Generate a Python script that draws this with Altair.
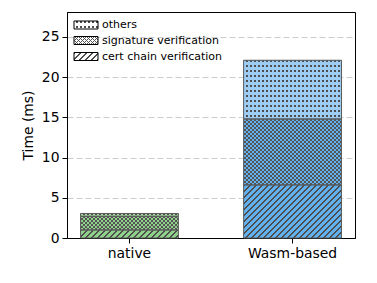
import math
import altair as alt
import pandas as pd

# ---------------- data ----------------
categories = ["native", "Wasm-based"]
segments = ["cert chain verification", "signature verification", "others"]
native_ms = [1.0, 1.7, 0.35]
wasm_ms = [6.6, 8.2, 7.3]
y_ticks = [0, 5, 10, 15, 20, 25]
y_title = "Time (ms)"
legend_order = ["others", "signature verification", "cert chain verification"]

# ---------------- styles ----------------
PLOT_W, PLOT_H = 288, 226
Y_MAX = 28.1
PAD_IN, PAD_OUT = 0.4, 0.083
FONT = "DejaVu Sans"
INK = "#4d4d4d"
EDGE = "#5a5a5a"
CLEAR = "rgba(255,255,255,0)"
fills = {
    "native": {"cert chain verification": "#8fd08a",
               "signature verification": "#8fd08a",
               "others": "#a9dba4"},
    "Wasm-based": {"cert chain verification": "#62b1ef",
                   "signature verification": "#62b1ef",
                   "others": "#9dcdf4"},
}
hatch_kind = {"cert chain verification": "diag",
              "signature verification": "cross",
              "others": "dots"}

rows = []
for cat, vals in zip(categories, [native_ms, wasm_ms]):
    acc = 0.0
    for seg, v in zip(segments, vals):
        rows.append({"category": cat, "segment": seg, "start": acc,
                     "end": acc + v, "fillc": fills[cat][seg]})
        acc += v
df = pd.DataFrame(rows)

step = PLOT_W / (len(categories) - PAD_IN + 2 * PAD_OUT)
BAND = step * (1 - PAD_IN)
PPU = PLOT_H / Y_MAX


# ---------------- hatch gradients ----------------
def stops(n, frac, on, off=CLEAR):
    out = []
    p = 1.0 / max(n, 1e-6)
    i = 0
    while i * p < 1 - 1e-9:
        a = i * p
        b = min(1.0, a + frac * p)
        c = min(1.0, (i + 1) * p)
        out += [{"offset": round(a, 5), "color": on},
                {"offset": round(b, 5), "color": on},
                {"offset": round(b, 5), "color": off},
                {"offset": round(c, 5), "color": off}]
        i += 1
    return out


def diag(w, h, xperiod, frac, on, slash=True):
    # stripes at 45 degrees; xperiod = horizontal repeat in pixels
    L = w + h
    k = L / (w * w + h * h)
    gx, gy = k * w, k * h
    n = L / xperiod
    if slash:
        return {"gradient": "linear", "x1": 0, "y1": 0, "x2": gx, "y2": gy,
                "stops": stops(n, frac, on)}
    return {"gradient": "linear", "x1": 0, "y1": 1, "x2": gx, "y2": 1 - gy,
            "stops": stops(n, frac, on)}


def horiz(h, period, frac, on):
    return {"gradient": "linear", "x1": 0, "y1": 0, "x2": 0, "y2": 1,
            "stops": stops(h / period, frac, on)}


def vert(w, period, frac, on):
    return {"gradient": "linear", "x1": 0, "y1": 0, "x2": 1, "y2": 0,
            "stops": stops(w / period, frac, on)}


def hatch_grads(kind, w, h, base):
    if kind == "diag":
        return [diag(w, h, 6.0, 0.36, INK, True)]
    if kind == "cross":
        return [diag(w, h, 4.0, 0.25, "#555555", True),
                diag(w, h, 4.0, 0.25, "#555555", False)]
    return [horiz(h, 5.0, 0.4, INK), vert(w, 4.0, 0.5, base)]


# ---------------- encodings ----------------
x_enc = alt.X("category:N", sort=categories,
              scale=alt.Scale(paddingInner=PAD_IN, paddingOuter=PAD_OUT, round=False),
              axis=alt.Axis(title=None, labelAngle=0, grid=False))
y_enc = alt.Y("start:Q",
              scale=alt.Scale(domain=[0, Y_MAX], nice=False, zero=True),
              axis=alt.Axis(values=y_ticks, title=y_title, grid=True,
                            gridDash=[6, 3], gridColor="#cccccc", gridWidth=1,
                            titlePadding=6))
y2_enc = alt.Y2("end:Q")

base = alt.Chart(df)

layers = [base.mark_bar(strokeWidth=0).encode(
    x=x_enc, y=y_enc, y2=y2_enc, fill=alt.Fill("fillc:N", scale=None))]

for r in rows:
    w = BAND
    h = (r["end"] - r["start"]) * PPU
    for g in hatch_grads(hatch_kind[r["segment"]], w, h, r["fillc"]):
        layers.append(
            base.transform_filter((alt.datum.category == r["category"]) &
                                  (alt.datum.segment == r["segment"]))
            .mark_bar(strokeWidth=0)
            .encode(x=x_enc, y=y_enc, y2=y2_enc, fill=alt.value(g)))

layers.append(base.mark_bar(fillOpacity=0, stroke=EDGE, strokeWidth=1).encode(
    x=x_enc, y=y_enc, y2=y2_enc))

# ---------------- legend (hand-built, hatched patches) ----------------
leg_df = pd.DataFrame({"label": legend_order})
leg_base = alt.Chart(leg_df)
PX0, PX1, PH, TX = 7, 31, 8, 35
row_cy = [13, 28.5, 44.5]
for lab, cy in zip(legend_order, row_cy):
    sel = leg_base.transform_filter(alt.datum.label == lab)
    pos = dict(x=alt.value(PX0), x2=alt.value(PX1),
               y=alt.value(cy - PH / 2), y2=alt.value(cy + PH / 2))
    layers.append(sel.mark_rect(fill="white", strokeWidth=0).encode(**pos))
    for g in hatch_grads(hatch_kind[lab], PX1 - PX0, PH, "white"):
        layers.append(sel.mark_rect(strokeWidth=0).encode(fill=alt.value(g), **pos))
    layers.append(sel.mark_rect(fillOpacity=0, stroke="black", strokeWidth=1).encode(**pos))
    layers.append(sel.mark_text(align="left", baseline="middle", font=FONT,
                                fontSize=11, color="black")
                  .encode(x=alt.value(TX), y=alt.value(cy), text="label:N"))

chart = (
    alt.layer(*layers)
    .properties(width=PLOT_W, height=PLOT_H, background="white",
                padding={"left": 13, "top": 4, "right": 5, "bottom": 5})
    .configure_view(stroke="black", strokeWidth=1)
    .configure_axis(domainColor="black", domainWidth=1, tickColor="black",
                    tickWidth=1, tickSize=5, labelPadding=3,
                    labelColor="black", titleColor="black",
                    labelFont=FONT, titleFont=FONT, titleFontWeight="normal",
                    labelFontSize=13.9, titleFontSize=13.9)
)

chart.save("out.html", embed_options={"renderer": "svg", "actions": False})
